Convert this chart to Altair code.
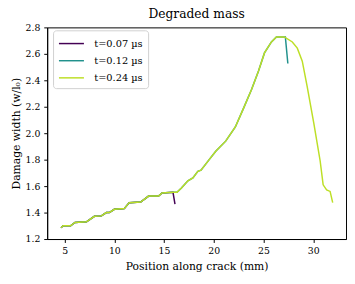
import altair as alt
import pandas as pd

# Full profile at t=0.24 µs
x_full = [4.64, 4.85, 5.6, 6.05, 7.2, 8.0, 8.7, 9.2, 9.5, 10.0, 11.0, 11.5, 12.65,
          13.45, 14.45, 14.8, 15.9, 16.3, 16.75, 17.4, 17.9, 18.4, 18.72, 19.54,
          20.2, 21.2, 22.17, 23.0, 23.8, 24.5, 25.1, 25.8, 26.3, 27.1, 27.9, 28.4,
          28.9, 29.4, 30.05, 30.7, 31.0, 31.35, 31.7, 31.96]
y_full = [1.285, 1.30, 1.30, 1.325, 1.33, 1.372, 1.375, 1.40, 1.40, 1.425, 1.43,
          1.475, 1.48, 1.525, 1.525, 1.548, 1.553, 1.553, 1.585, 1.64, 1.662,
          1.712, 1.72, 1.80, 1.864, 1.94, 2.047, 2.19, 2.33, 2.47, 2.607, 2.69,
          2.728, 2.728, 2.69, 2.643, 2.545, 2.35, 2.08, 1.79, 1.61, 1.572, 1.56,
          1.475]

# t=0.07 µs: same front up to ~15.9 mm, then drops
x_t1 = x_full[:17] + [16.1]
y_t1 = y_full[:17] + [1.463]

# t=0.12 µs: same front up to ~27.1 mm, then drops
x_t2 = x_full[:34] + [27.2, 27.45]
y_t2 = y_full[:34] + [2.728, 2.527]

labels = ["t=0.07 µs", "t=0.12 µs", "t=0.24 µs"]
colors = ["#440154", "#21918c", "#bddf26"]
x_ticks = [5, 10, 15, 20, 25, 30]
y_ticks = [1.2, 1.4, 1.6, 1.8, 2.0, 2.2, 2.4, 2.6, 2.8]

rows = []
for lab, xs, ys in zip(labels, [x_t1, x_t2, x_full], [y_t1, y_t2, y_full]):
    for i, (a, b) in enumerate(zip(xs, ys)):
        rows.append({"series": lab, "x": a, "y": b, "i": i})
df = pd.DataFrame(rows)

FONT = "DejaVu Serif"

chart = alt.Chart(df).mark_line(strokeWidth=1.5).encode(
    x=alt.X("x:Q", scale=alt.Scale(domain=[3.25, 33.3], nice=False, zero=False),
            axis=alt.Axis(title="Position along crack (mm)", values=x_ticks,
                          grid=False, tickSize=3.5, labelFontSize=9.5, titleFontSize=11,
                          titleFontWeight="normal", labelPadding=3, titlePadding=6,
                          domainColor="black", tickColor="black", labelColor="black",
                          titleColor="black")),
    y=alt.Y("y:Q", scale=alt.Scale(domain=[1.2, 2.8], nice=False, zero=False),
            axis=alt.Axis(title="Damage width (w/l₀)", values=y_ticks,
                          format=".1f", grid=False, tickSize=3.5, labelFontSize=9.5,
                          titleFontSize=11, titleFontWeight="normal", labelPadding=4,
                          titlePadding=4, domainColor="black", tickColor="black",
                          labelColor="black", titleColor="black")),
    color=alt.Color("series:N", scale=alt.Scale(domain=labels, range=colors),
                    legend=alt.Legend(title=None, orient="none", legendX=6, legendY=3,
                                      symbolType="M-1,0H2.4", symbolStrokeWidth=1.5,
                                      symbolSize=225, labelFontSize=10, labelFont=FONT,
                                      labelOffset=20, fillColor="white",
                                      strokeColor="#d0d0d0", cornerRadius=3, padding=5,
                                      rowPadding=3.5, labelColor="black")),
    order="i:Q",
).properties(
    width=305, height=216,
    title=alt.TitleParams("Degraded mass", fontSize=12.5, font=FONT, fontWeight="normal",
                          color="black", offset=2),
    autosize=alt.AutoSizeParams(type="none"),
    padding={"left": 40, "top": 17, "right": 1, "bottom": 38},
).configure_axis(
    labelFont=FONT, titleFont=FONT,
).configure_view(
    stroke="black", strokeWidth=1,
)

chart.save("out.html", embed_options={"renderer": "svg", "actions": False})
